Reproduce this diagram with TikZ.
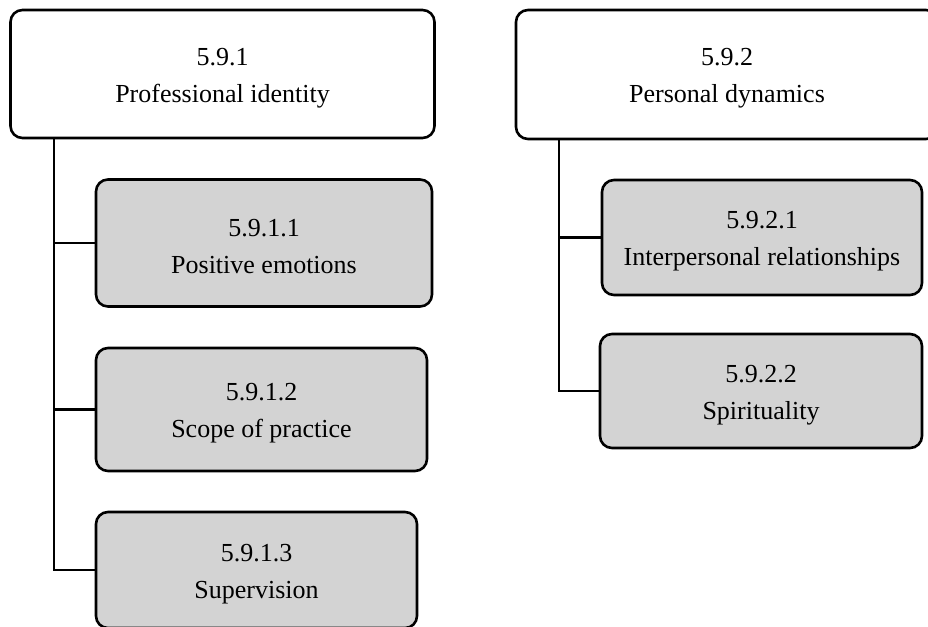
\documentclass[tikz,border=0pt]{standalone}
\usepackage{fontspec}
\setmainfont{Liberation Serif}
\definecolor{boxgray}{RGB}{211,211,211}
\newcommand{\lowstrut}{\rule{0pt}{25pt}}
\tikzset{
  topbox/.style={draw=black, line width=2.6pt, rounded corners=12pt, fill=white, align=center, inner sep=0pt, font=\fontsize{26}{37}\selectfont},
  subbox/.style={topbox, fill=boxgray},
  link/.style={draw=black, line width=2.6pt}
}
\begin{document}
\begin{tikzpicture}[x=1pt,y=-1pt]
\useasboundingbox (0,0) rectangle (928,626);
\node[topbox, minimum width=424pt, minimum height=128pt] (b1) at (222.5,74) {\lowstrut 5.9.1\\Professional identity};
\node[topbox, minimum width=422pt, minimum height=129pt] (b2) at (727,74.5) {\lowstrut 5.9.2\\Personal dynamics};
\node[subbox, minimum width=336pt, minimum height=127pt] (c1) at (264,243) {\lowstrut 5.9.1.1\\Positive emotions};
\node[subbox, minimum width=331pt, minimum height=123pt] (c2) at (261.5,409.5) {\lowstrut 5.9.1.2\\Scope of practice};
\node[subbox, minimum width=321pt, minimum height=116pt] (c3) at (256.5,570) {\lowstrut 5.9.1.3\\Supervision};
\node[subbox, minimum width=320pt, minimum height=115pt] (r1) at (762,237.5) {\lowstrut 5.9.2.1\\Interpersonal relationships};
\node[subbox, minimum width=322pt, minimum height=114pt] (r2) at (761,391) {\lowstrut 5.9.2.2\\Spirituality};
\coordinate (t1) at (54,0);
\coordinate (t2) at (559,0);
\draw[link] (b1.south -| t1) |- (c1.west);
\draw[link] (b1.south -| t1) |- (c2.west);
\draw[link] (b1.south -| t1) |- (c3.west);
\draw[link] (b2.south -| t2) |- (r1.west);
\draw[link] (b2.south -| t2) |- (r2.west);
\end{tikzpicture}
\end{document}
